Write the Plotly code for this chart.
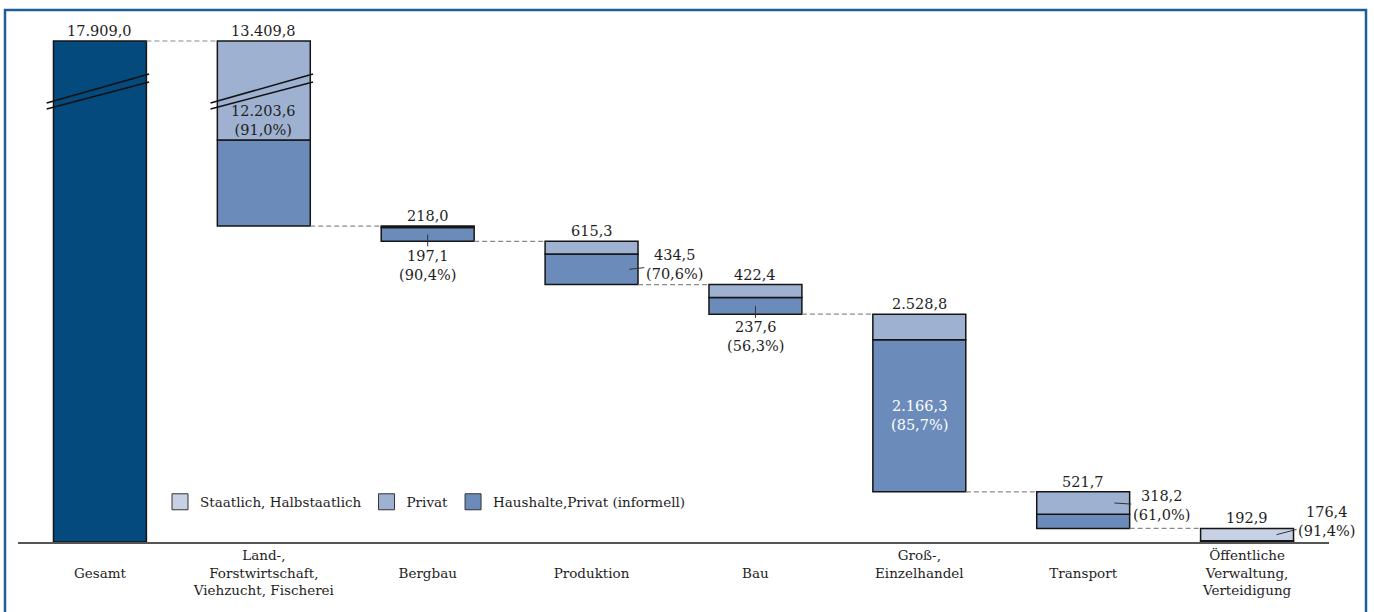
import numpy as np
import plotly.graph_objects as go

# ---------------- data ----------------
categories = [
    "Gesamt",
    "Land-,<br>Forstwirtschaft,<br>Viehzucht, Fischerei",
    "Bergbau",
    "Produktion",
    "Bau",
    "Groß-,<br>Einzelhandel",
    "Transport",
    "Öffentliche<br>Verwaltung,<br>Verteidigung",
]
gesamt_total = 17909.0
sector_totals = [13409.8, 218.0, 615.3, 422.4, 2528.8, 521.7, 192.9]
haushalte = [12203.6, 197.1, 434.5, 237.6, 2166.3, 203.5, 16.5]
staatlich = [0.0, 0.0, 0.0, 0.0, 0.0, 0.0, 176.4]
privat = [1206.2, 20.9, 180.8, 184.8, 362.5, 318.2, 0.0]
share_values = [12203.6, 197.1, 434.5, 237.6, 2166.3, 318.2, 176.4]
share_pct = [91.0, 90.4, 70.6, 56.3, 85.7, 61.0, 91.4]
legend_names = ["Staatlich, Halbstaatlich", "Privat", "Haushalte,Privat (informell)"]

# ---------------- styles ----------------
C_GES = "#044a7d"
C_HH = "#6b8bba"
C_PR = "#9fb1d1"
C_ST = "#c6d1e6"
EDGE = "#151515"
FONT = "DejaVu Serif"
TXT = "#1e1e1e"
W = 0.567

def de(v):
    s = f"{v:,.1f}"
    return s.replace(",", "X").replace(".", ",").replace("X", ".")

tot = np.array(sector_totals)
hh = np.array(haushalte)
st = np.array(staatlich)
pr = np.array(privat)
rc = np.cumsum(tot[::-1])[::-1]
bottoms = np.concatenate([rc[1:], [0.0]])
tops = bottoms + tot
xs = np.arange(1, len(sector_totals) + 1)

def nz(a):
    return [v if v > 0 else None for v in a]

fig = go.Figure()

# legend entries (square swatches)
for name, col in zip(legend_names, [C_ST, C_PR, C_HH]):
    fig.add_trace(go.Scatter(
        x=[None], y=[None], mode="markers", name=name, legendgroup=name,
        marker=dict(symbol="square", size=16, color=col, line=dict(color="#333", width=1)),
        hoverinfo="skip"))

for ya in ["y", "y2"]:
    fig.add_trace(go.Bar(x=[0], y=[gesamt_total], base=[0], width=W, yaxis=ya,
                         marker=dict(color=C_GES, line=dict(color=EDGE, width=1.5)),
                         showlegend=False, name="Gesamt"))
    fig.add_trace(go.Bar(x=xs, y=nz(hh), base=bottoms, width=W, yaxis=ya,
                         marker=dict(color=C_HH, line=dict(color=EDGE, width=1.5)),
                         showlegend=False, legendgroup=legend_names[2], name=legend_names[2]))
    fig.add_trace(go.Bar(x=xs, y=nz(st), base=bottoms + hh, width=W, yaxis=ya,
                         marker=dict(color=C_ST, line=dict(color=EDGE, width=1.5)),
                         showlegend=False, legendgroup=legend_names[0], name=legend_names[0]))
    fig.add_trace(go.Bar(x=xs, y=nz(pr), base=bottoms + hh + st, width=W, yaxis=ya,
                         marker=dict(color=C_PR, line=dict(color=EDGE, width=1.5)),
                         showlegend=False, legendgroup=legend_names[1], name=legend_names[1]))

# connectors
all_bottoms = np.concatenate([[0.0], bottoms])
fig.add_trace(go.Scatter(x=[0 + W / 2, 1 - W / 2], y=[gesamt_total, gesamt_total], yaxis="y2",
                         mode="lines", line=dict(color="#8a8a8a", width=1.2, dash="5px,3px"),
                         showlegend=False, hoverinfo="skip"))
cx, cy = [], []
for i in range(1, len(sector_totals)):
    lvl = all_bottoms[i]
    cx += [i + W / 2, i + 1 - W / 2, None]
    cy += [lvl, lvl, None]
fig.add_trace(go.Scatter(x=cx, y=cy, yaxis="y", mode="lines",
                         line=dict(color="#8a8a8a", width=1.2, dash="5px,3px"),
                         showlegend=False, hoverinfo="skip"))

ann = []
lab_font = dict(family=FONT, size=14.5, color=TXT)
# totals
ann.append(dict(x=0, y=gesamt_total, yref="y2", text=de(gesamt_total), showarrow=False,
                yanchor="bottom", font=lab_font))
for i, x in enumerate(xs):
    ann.append(dict(x=x, y=tops[i], yref="y2" if i == 0 else "y", text=de(tot[i]),
                    showarrow=False, yanchor="bottom", font=lab_font))

def share_text(i):
    return f"{de(share_values[i])}<br>({de(share_pct[i])}%)"

# Land: above boundary in upper part
ann.append(dict(x=1, y=bottoms[0] + hh[0], yref="y2", text=share_text(0), showarrow=False,
                yanchor="bottom", font=lab_font))
# Bergbau
ann.append(dict(x=2, y=bottoms[1] + hh[1] / 2, yref="y", text=share_text(1), showarrow=True,
                arrowhead=0, arrowwidth=1, arrowcolor="#333", ax=0, ay=31, font=lab_font))
# Produktion
ann.append(dict(x=3 + 0.23, y=bottoms[2] + hh[2] / 2, yref="y", text=share_text(2), showarrow=True,
                arrowhead=0, arrowwidth=1, arrowcolor="#333", ax=45, ay=-5, font=lab_font))
# Bau
ann.append(dict(x=4, y=bottoms[3] + hh[3] / 2, yref="y", text=share_text(3), showarrow=True,
                arrowhead=0, arrowwidth=1, arrowcolor="#333", ax=0, ay=31, font=lab_font))
# Groß-, Einzelhandel (inside, white)
ann.append(dict(x=5, y=bottoms[4] + hh[4] / 2, yref="y", text=share_text(4), showarrow=False,
                font=dict(family=FONT, size=14.5, color="white")))
# Transport
ann.append(dict(x=6 + 0.19, y=bottoms[5] + hh[5] + pr[5] / 2, yref="y", text=share_text(5),
                showarrow=True, arrowhead=0, arrowwidth=1, arrowcolor="#333", ax=47, ay=3,
                font=lab_font))
# Öffentliche Verwaltung
ann.append(dict(x=7 + 0.18, y=bottoms[6] + hh[6] + st[6] / 2, yref="y", text=share_text(6),
                showarrow=True, arrowhead=0, arrowwidth=1, arrowcolor="#333", ax=50, ay=-13,
                font=lab_font))

# axis-break marks
shapes = []
for cxm in [0, 1]:
    for (ya0, ya1) in [(0.342, 0.604), (0.288, 0.532)]:
        shapes.append(dict(type="line", xref="x", yref="y2 domain",
                           x0=cxm - 0.325, x1=cxm + 0.30, y0=ya0, y1=ya1,
                           line=dict(color="#111", width=1.5)))
# outer frame
shapes.append(dict(type="rect", xref="paper", yref="paper",
                   x0=(5 - 18) / 1311, x1=(1366 - 18) / 1311,
                   y0=(542 - 660) / 512, y1=(542 - 10) / 512,
                   line=dict(color="#1d5e99", width=2.5), fillcolor="rgba(0,0,0,0)"))

ticktext = [c if "<br>" in c else "<br>" + c for c in categories]
d = 401 / 512

fig.update_layout(
    width=1374, height=612,
    margin=dict(l=18, r=45, t=30, b=70),
    paper_bgcolor="white", plot_bgcolor="white",
    barmode="overlay",
    showlegend=True,
    legend=dict(orientation="h", x=(160 - 18) / 1311, xanchor="left",
                y=(542 - 502) / 512, yanchor="middle",
                font=dict(family=FONT, size=13.5, color=TXT),
                bgcolor="rgba(0,0,0,0)", itemsizing="trace", traceorder="normal"),
    xaxis=dict(range=[-0.5, 7.5], tickvals=list(range(len(categories))), ticktext=ticktext,
               showline=True, linecolor="#555", linewidth=2, ticks="", showgrid=False,
               zeroline=False, tickfont=dict(family=FONT, size=13.5, color=TXT), anchor="y",
               fixedrange=True),
    yaxis=dict(domain=[0, d], range=[0, 5710], visible=False, showgrid=False, zeroline=False,
               fixedrange=True),
    yaxis2=dict(domain=[d, 1], range=[16690, 18043], visible=False, showgrid=False,
                zeroline=False, anchor="x", fixedrange=True),
    annotations=ann,
    shapes=shapes,
    hovermode=False,
)

fig.write_html("out.html", config={"displayModeBar": False},
               post_script="document.body.style.margin='0';")
